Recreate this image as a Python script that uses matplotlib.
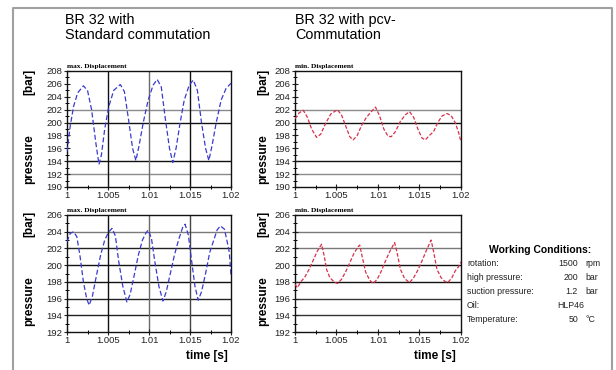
import matplotlib.pyplot as plt
from matplotlib.lines import Line2D
from matplotlib.ticker import MultipleLocator, FixedLocator

plt.rcParams['font.family'] = ['Liberation Sans', 'DejaVu Sans']

# --- data ----------------------------------------------------------------
# top left: standard commutation, max. displacement
t_std_max = [1.0000, 1.0004, 1.0008, 1.0013, 1.0020, 1.0025, 1.0030, 1.0035, 1.0039,
             1.0042, 1.0046, 1.0051, 1.0057, 1.0065, 1.0070, 1.0075, 1.0080, 1.0084,
             1.0088, 1.0093, 1.0099, 1.0105, 1.0110, 1.0115, 1.0120, 1.0125, 1.0129,
             1.0133, 1.0138, 1.0143, 1.0149, 1.0154, 1.0159, 1.0164, 1.0169, 1.0173,
             1.0177, 1.0182, 1.0188, 1.0194, 1.0200]
p_std_max = [195.5, 199.5, 202.5, 204.6, 205.7, 205.0, 202.0, 197.0, 193.5,
             195.0, 199.0, 202.5, 205.0, 205.9, 204.8, 200.5, 196.0, 194.1,
             196.5, 200.0, 203.5, 205.8, 206.7, 205.5, 200.5, 196.0, 193.8,
             196.0, 200.0, 203.5, 205.8, 206.6, 205.0, 200.0, 196.0, 194.1,
             196.5, 200.0, 203.5, 205.3, 206.1]

# top right: pcv commutation, min. displacement
t_pcv_min = [1.0000, 1.0005, 1.0010, 1.0015, 1.0020, 1.0026, 1.0031, 1.0037, 1.0043,
             1.0051, 1.0056, 1.0061, 1.0066, 1.0070, 1.0075, 1.0080, 1.0086, 1.0092,
             1.0097, 1.0102, 1.0107, 1.0112, 1.0116, 1.0121, 1.0127, 1.0133, 1.0138,
             1.0143, 1.0148, 1.0153, 1.0157, 1.0162, 1.0167, 1.0172, 1.0177, 1.0183,
             1.0188, 1.0193, 1.0197, 1.0200]
p_pcv_min = [200.6, 201.5, 201.9, 200.8, 199.0, 197.7, 198.2, 199.9, 201.3,
             202.0, 201.2, 199.5, 197.8, 197.3, 198.0, 199.5, 200.8, 201.7,
             202.4, 201.0, 199.0, 197.9, 197.8, 198.6, 200.2, 201.2, 201.7,
             200.8, 199.0, 197.6, 197.3, 198.0, 198.6, 200.0, 201.0, 201.4,
             201.1, 200.0, 198.5, 197.0]

# bottom left: standard commutation, max. displacement
t_std_max2 = [1.0000, 1.0004, 1.0008, 1.0012, 1.0016, 1.0020, 1.0024, 1.0027, 1.0031,
              1.0036, 1.0041, 1.0046, 1.0051, 1.0055, 1.0059, 1.0063, 1.0068, 1.0073,
              1.0077, 1.0082, 1.0087, 1.0092, 1.0096, 1.0099, 1.0103, 1.0107, 1.0112,
              1.0117, 1.0121, 1.0126, 1.0131, 1.0136, 1.0141, 1.0144, 1.0148, 1.0152,
              1.0156, 1.0160, 1.0164, 1.0169, 1.0174, 1.0179, 1.0183, 1.0187, 1.0192,
              1.0196, 1.0198, 1.0200]
p_std_max2 = [202.8, 203.8, 204.0, 203.4, 201.0, 198.0, 196.0, 195.2, 196.3,
              198.8, 201.2, 203.0, 204.0, 204.4, 203.5, 200.5, 197.5, 195.6,
              196.5, 198.8, 201.2, 203.0, 203.8, 204.2, 203.2, 200.5, 197.5,
              195.7, 196.8, 199.0, 201.2, 203.0, 204.5, 204.9, 203.6, 200.5,
              197.5, 195.8, 196.8, 199.0, 201.5, 203.0, 204.2, 204.7, 204.3,
              202.5, 201.5, 198.7]

# bottom right: pcv commutation, min. displacement
t_pcv_min2 = [1.0000, 1.0003, 1.0007, 1.0012, 1.0017, 1.0022, 1.0027, 1.0032, 1.0035,
              1.0038, 1.0042, 1.0047, 1.0051, 1.0056, 1.0061, 1.0066, 1.0071, 1.0076,
              1.0078, 1.0081, 1.0085, 1.0090, 1.0094, 1.0099, 1.0104, 1.0109, 1.0114,
              1.0120, 1.0123, 1.0127, 1.0132, 1.0138, 1.0143, 1.0148, 1.0153, 1.0158,
              1.0164, 1.0167, 1.0171, 1.0176, 1.0180, 1.0184, 1.0189, 1.0193, 1.0197,
              1.0200]
p_pcv_min2 = [197.7, 197.3, 198.0, 198.6, 199.5, 200.6, 201.7, 202.5, 201.2,
              199.5, 198.5, 198.0, 197.8, 198.3, 199.2, 200.3, 201.4, 202.2,
              202.4, 201.0, 199.2, 198.2, 197.8, 198.3, 199.3, 200.5, 201.6,
              202.7, 201.5, 199.5, 198.4, 197.9, 198.5, 199.4, 200.5, 201.7,
              203.0, 201.6, 199.5, 198.5, 198.1, 197.9, 198.5, 199.3, 199.8,
              200.4]

x_ticks = [1.0, 1.005, 1.01, 1.015, 1.02]
x_labels = ['1', '1.005', '1.01', '1.015', '1.02']

cond_names = ['rotation:', 'high pressure:', 'suction pressure:', 'Oil:', 'Temperature:']
cond_values = ['1500', '200', '1.2', 'HLP46', '50']
cond_units = ['rpm', 'bar', 'bar', '', '°C']

BLUE = '#3a3ad0'
RED = '#d8304a'

fig = plt.figure(figsize=(6.16, 3.70), dpi=100)
W, H = 616, 370


def fx(px):
    return px / W


def fy(py):
    return 1 - py / H


def make_axes(x0, x1, y0, y1):
    return fig.add_axes([fx(x0), fy(y1), fx(x1) - fx(x0), fy(y0) - fy(y1)])


def style(ax, ylim, yticks, hlines, vlines, sub_title):
    ax.set_xlim(1.0, 1.02)
    ax.set_ylim(*ylim)
    ax.set_xticks(x_ticks)
    ax.set_xticklabels(x_labels)
    ax.xaxis.set_minor_locator(FixedLocator([1.0025, 1.0075, 1.0125, 1.0175]))
    ax.set_yticks(yticks)
    ax.yaxis.set_minor_locator(MultipleLocator(1))
    ax.tick_params(which='major', direction='inout', length=4, width=0.8,
                   labelsize=6.8, colors='#222222', pad=1.2)
    ax.tick_params(which='minor', direction='inout', length=2.5, width=0.7)
    for s in ax.spines.values():
        s.set_color('#111111')
        s.set_linewidth(1.0)
    for v, c in hlines:
        ax.axhline(v, color=c, lw=1.0, zorder=1)
    for v, c in vlines:
        ax.axvline(v, color=c, lw=1.0, zorder=1)
    ax.text(0.0, 1.02, sub_title, transform=ax.transAxes, ha='left', va='bottom',
            fontsize=5.3, fontweight='bold', family='Liberation Serif')


# top row
ax1 = make_axes(67, 231, 71, 187)
ax1.plot(t_std_max, p_std_max, color=BLUE, lw=0.9, ls=(0, (4, 2)), zorder=3)
style(ax1, (190, 208), range(190, 209, 2),
      [(202, '#8a8a8a'), (200, '#111111'), (194, '#111111'), (192, '#8a8a8a')],
      [(1.005, '#111111'), (1.01, '#6a6a6a'), (1.015, '#111111')],
      'max. Displacement')

ax2 = make_axes(295, 461, 71, 187)
ax2.plot(t_pcv_min, p_pcv_min, color=RED, lw=0.9, ls=(0, (3, 1.5)), zorder=3)
style(ax2, (190, 208), range(190, 209, 2),
      [(202, '#8a8a8a'), (200, '#111111'), (194, '#111111'), (192, '#8a8a8a')],
      [], 'min. Displacement')

# bottom row
ax3 = make_axes(67, 231, 215, 332)
ax3.plot(t_std_max2, p_std_max2, color=BLUE, lw=0.9, ls=(0, (4, 2)), zorder=3)
style(ax3, (192, 206), range(192, 207, 2),
      [(204, '#7a7a7a'), (202, '#222222'), (200, '#111111'), (198, '#111111'),
       (196, '#222222'), (194, '#222222')],
      [(1.005, '#111111'), (1.01, '#6a6a6a'), (1.015, '#444444')],
      'max. Displacement')

ax4 = make_axes(295, 461, 215, 332)
ax4.plot(t_pcv_min2, p_pcv_min2, color=RED, lw=0.9, ls=(0, (3, 1.5)), zorder=3)
style(ax4, (192, 206), range(192, 207, 2),
      [(204, '#7a7a7a'), (202, '#7a7a7a'), (200, '#111111'), (198, '#111111'),
       (196, '#333333'), (194, '#333333')],
      [], 'min. Displacement')

# y labels
for xl in (29, 263):
    for yb, yp in ((82, 159), (224, 301)):
        fig.text(fx(xl), fy(yb), '[bar]', rotation=90, ha='center', va='center',
                 fontsize=8.5, fontweight='bold')
        fig.text(fx(xl), fy(yp), 'pressure', rotation=90, ha='center', va='center',
                 fontsize=8.5, fontweight='bold')

# x labels
fig.text(fx(228), fy(356), 'time [s]', ha='right', va='center', fontsize=8.5,
         fontweight='bold')
fig.text(fx(456), fy(356), 'time [s]', ha='right', va='center', fontsize=8.5,
         fontweight='bold')

# headers
fig.text(fx(65), fy(13), 'BR 32 with\nStandard commutation', ha='left', va='top',
         fontsize=10.4, linespacing=1.1)
fig.text(fx(295), fy(13), 'BR 32 with pcv-\nCommutation', ha='left', va='top',
         fontsize=10.4, linespacing=1.1)

# working conditions
fig.text(fx(540), fy(250), 'Working Conditions:', ha='center', va='center',
         fontsize=7.5, fontweight='bold')
for i in range(len(cond_names)):
    y = fy(264 + 14 * i)
    fig.text(fx(467), y, cond_names[i], ha='left', va='center', fontsize=6.3,
             color='#222222')
    if cond_units[i]:
        fig.text(fx(578), y, cond_values[i], ha='right', va='center', fontsize=6.3,
                 color='#222222')
        fig.text(fx(585), y, cond_units[i], ha='left', va='center', fontsize=6.3,
                 color='#222222')
    else:
        fig.text(fx(584), y, cond_values[i], ha='right', va='center', fontsize=6.3,
                 color='#222222')

# outer frame (left, top, right)
fig.add_artist(Line2D([fx(13), fx(13), fx(612), fx(612)],
                      [fy(H), fy(8), fy(8), fy(H)],
                      color='#a0a0a0', lw=1.5))

fig.savefig('out.png', dpi=100)
